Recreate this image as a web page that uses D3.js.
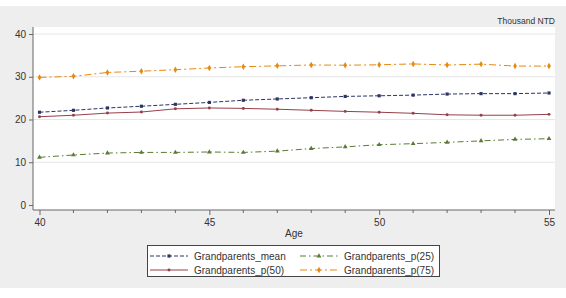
<!DOCTYPE html>
<html lang="en">
<head>
<meta charset="UTF-8">
<title>Grandparents by age</title>
<script src="https://cdn.jsdelivr.net/npm/d3@7/dist/d3.min.js"></script>
<style>
    body { margin: 0; background: #fff; }
    svg { display: block; font-family: "Liberation Sans", Arial, sans-serif; }
</style>
</head>
<body>
<svg width="566" height="298"></svg>
<script>
    const ages = d3.range(40, 56);
    const meanVals = [21.7, 22.15, 22.7, 23.1, 23.55, 24.0, 24.5, 24.8, 25.1, 25.4, 25.55, 25.7, 25.95, 26.05, 26.05, 26.2];
    const p25Vals = [11.15, 11.7, 12.15, 12.3, 12.3, 12.4, 12.3, 12.6, 13.2, 13.6, 14.1, 14.35, 14.65, 15.0, 15.35, 15.5];
    const p50Vals = [20.65, 21.0, 21.5, 21.75, 22.5, 22.7, 22.6, 22.4, 22.15, 21.9, 21.7, 21.45, 21.1, 21.0, 21.0, 21.2];
    const p75Vals = [29.85, 30.1, 31.0, 31.3, 31.65, 32.05, 32.35, 32.55, 32.75, 32.7, 32.8, 33.0, 32.75, 32.95, 32.5, 32.5];
    const yTicks = [0, 10, 20, 30, 40];
    const xTicks = [40, 45, 50, 55];

    const series = [
        { name: "Grandparents_mean", values: meanVals, color: "#2b3462", dash: "4,2", symbol: d3.symbolSquare, size: 10 },
        { name: "Grandparents_p(25)", values: p25Vals, color: "#5a7a35", dash: "6,3,1.5,3", symbol: d3.symbolTriangle, size: 10 },
        { name: "Grandparents_p(50)", values: p50Vals, color: "#94404a", dash: null, symbol: d3.symbolCircle, size: 7 },
        { name: "Grandparents_p(75)", values: p75Vals, color: "#e8890f", dash: "7,3,2,3", symbol: d3.symbolDiamond, size: 12 }
    ];

    const svg = d3.select("svg");

    // outer graph region
    svg.append("rect").attr("x", 0).attr("y", 6).attr("width", 566).attr("height", 282).attr("fill", "#eeeeee");

    const x = d3.scaleLinear().domain([40, 55]).range([39.5, 549]);
    const y = d3.scaleLinear().domain([0, 40]).range([205, 34]);

    const pLeft = 33, pRight = 555, pTop = 27, pBottom = 210;
    svg.append("rect").attr("x", pLeft).attr("y", pTop).attr("width", pRight - pLeft).attr("height", pBottom - pTop).attr("fill", "#fff");

    // grid
    svg.selectAll(".grid").data(yTicks.filter(d => d > 0)).enter().append("line")
        .attr("x1", pLeft).attr("x2", pRight)
        .attr("y1", d => y(d)).attr("y2", d => y(d))
        .attr("stroke", "#e6e6e6").attr("stroke-width", 1);

    // y axis
    const yAxis = svg.append("g").attr("transform", `translate(${pLeft},0)`)
        .call(d3.axisLeft(y).tickValues(yTicks).tickSize(4).tickPadding(3));
    yAxis.select(".domain").attr("d", `M0,${pTop}V${pBottom}`).attr("stroke", "#666");
    yAxis.selectAll(".tick line").attr("stroke", "#666");
    yAxis.selectAll("text").attr("font-size", 10).attr("fill", "#333").attr("font-family", "Liberation Sans, Arial, sans-serif");

    // x axis
    const xAxis = svg.append("g").attr("transform", `translate(0,${pBottom})`)
        .call(d3.axisBottom(x).tickValues(xTicks).tickSize(5).tickPadding(4));
    xAxis.select(".domain").attr("d", `M${pLeft},0H${pRight}`).attr("stroke", "#666");
    xAxis.selectAll(".tick line").attr("stroke", "#666");
    xAxis.selectAll("text").attr("font-size", 10).attr("fill", "#333").attr("font-family", "Liberation Sans, Arial, sans-serif");
    svg.append("g").selectAll("line").data(ages.filter(a => !xTicks.includes(a))).enter().append("line")
        .attr("x1", d => x(d)).attr("x2", d => x(d))
        .attr("y1", pBottom).attr("y2", pBottom + 3)
        .attr("stroke", "#666");

    svg.append("text").attr("x", (pLeft + pRight) / 2).attr("y", 237)
        .attr("text-anchor", "middle").attr("font-size", 10).attr("fill", "#333").text("Age");

    svg.append("text").attr("x", 555).attr("y", 24)
        .attr("text-anchor", "end").attr("font-size", 8.5).attr("fill", "#333").text("Thousand NTD");

    // lines
    const line = d3.line().x((d, i) => x(ages[i])).y(d => y(d));
    series.forEach(s => {
        svg.append("path").datum(s.values)
            .attr("fill", "none").attr("stroke", s.color).attr("stroke-width", 1)
            .attr("stroke-dasharray", s.dash).attr("d", line);
        svg.append("g").selectAll("path").data(s.values).enter().append("path")
            .attr("transform", (d, i) => `translate(${x(ages[i])},${y(d)})`)
            .attr("d", d3.symbol().type(s.symbol).size(s.size))
            .attr("fill", s.color);
    });

    // legend
    const lg = svg.append("g");
    lg.append("rect").attr("x", 147.5).attr("y", 245.5).attr("width", 292).attr("height", 31)
        .attr("fill", "#fff").attr("stroke", "#444").attr("stroke-width", 1);
    const cols = [150, 300], rows = [256, 270];
    series.forEach((s, i) => {
        const cx = cols[i % 2], cy = rows[Math.floor(i / 2)];
        lg.append("line").attr("x1", cx).attr("x2", cx + 38).attr("y1", cy).attr("y2", cy)
            .attr("stroke", s.color).attr("stroke-width", 1).attr("stroke-dasharray", s.dash);
        lg.append("path").attr("transform", `translate(${cx + 19},${cy})`)
            .attr("d", d3.symbol().type(s.symbol).size(s.size)).attr("fill", s.color);
        lg.append("text").attr("x", cx + 44).attr("y", cy + 3.5)
            .attr("font-size", 10).attr("fill", "#333").text(s.name);
    });
</script>
</body>
</html>
